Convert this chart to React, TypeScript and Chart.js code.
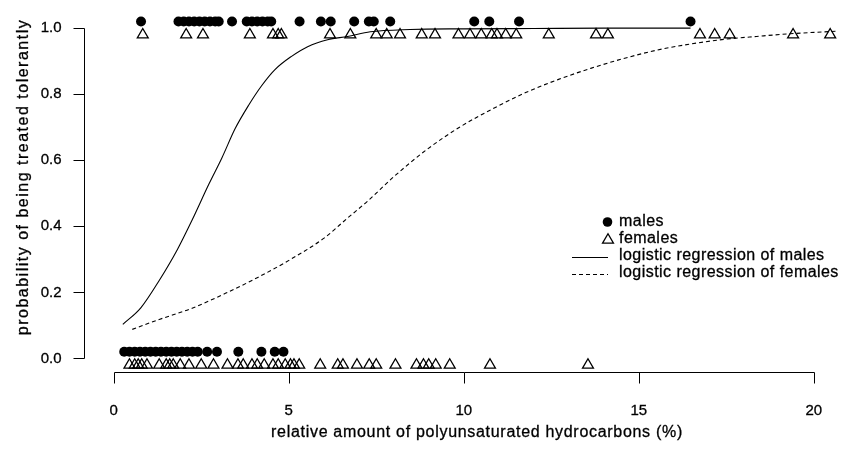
import React, { useEffect, useRef } from 'react';
import { Chart, registerables } from 'chart.js';

Chart.register(...registerables);

// ---- data ----
const maleTopX = [0.78, 1.85, 2.0, 2.15, 2.3, 2.45, 2.6, 2.75, 2.9, 3.0, 3.38, 3.8, 3.95, 4.1, 4.25, 4.4, 4.5, 5.31, 5.92, 6.2, 6.87, 7.29, 7.43, 7.9, 10.3, 10.73, 11.58, 16.48];
const maleBottomX = [0.3, 0.45, 0.6, 0.75, 0.9, 1.05, 1.2, 1.35, 1.5, 1.65, 1.8, 1.95, 2.1, 2.25, 2.4, 2.67, 2.95, 3.56, 4.22, 4.6, 4.85];
const femaleTopX = [0.83, 2.07, 2.55, 3.89, 4.55, 4.7, 4.79, 6.18, 6.76, 7.5, 7.8, 8.18, 8.8, 9.18, 9.85, 10.18, 10.5, 10.8, 10.95, 11.2, 11.5, 12.43, 13.78, 14.12, 16.75, 17.17, 17.6, 19.41, 20.47];
const femaleBottomX = [0.45, 0.6, 0.7, 0.8, 0.95, 1.3, 1.5, 1.6, 1.7, 1.9, 2.15, 2.5, 2.85, 3.25, 3.55, 3.7, 3.95, 4.1, 4.3, 4.55, 4.7, 4.9, 5.05, 5.15, 5.3, 5.9, 6.4, 6.55, 6.95, 7.3, 7.5, 8.05, 8.65, 8.85, 9.0, 9.2, 9.6, 10.75, 13.55];

const maleTopY = 1.02;
const maleBottomY = 0.02;
const femaleTopY = 0.98;
const femaleBottomY = -0.02;

const maleCurveX = [0.26, 0.78, 1.3, 1.82, 2.24, 2.72, 3.09, 3.47, 3.85, 4.22, 4.6, 5.07, 5.54, 6.11, 6.68, 7.33, 8.47, 10.0, 12.0, 14.0, 16.48];
const maleCurveP = [0.103, 0.154, 0.236, 0.33, 0.419, 0.528, 0.607, 0.696, 0.766, 0.825, 0.874, 0.914, 0.944, 0.965, 0.975, 0.989, 0.996, 0.998, 0.999, 1.0, 1.0];

const femaleCurveX = [0.53, 1.3, 2.24, 3.19, 4.13, 5.07, 6.02, 6.68, 7.24, 8.0, 8.94, 9.88, 10.83, 11.77, 12.71, 13.65, 14.6, 15.54, 16.48, 17.43, 18.37, 19.31, 20.7];
const femaleCurveP = [0.088, 0.118, 0.152, 0.197, 0.246, 0.301, 0.365, 0.425, 0.475, 0.55, 0.632, 0.7, 0.756, 0.805, 0.845, 0.879, 0.909, 0.934, 0.952, 0.966, 0.975, 0.983, 0.991];

const xTicks = [0, 5, 10, 15, 20];
const xTickLabels = ['0', '5', '10', '15', '20'];
const yTicks = [0, 0.2, 0.4, 0.6, 0.8, 1.0];
const yTickLabels = ['0.0', '0.2', '0.4', '0.6', '0.8', '1.0'];

const xTitle = 'relative amount of polyunsaturated hydrocarbons (%)';
const yTitle = 'probability of being treated tolerantly';
const legendLabels = ['males', 'females', 'logistic regression of males', 'logistic regression of females'];

const FONT = '"Liberation Sans", Arial, Helvetica, sans-serif';

function heavyText(ctx: CanvasRenderingContext2D, t: string, x: number, y: number) {
  ctx.fillText(t, x, y);
  ctx.strokeText(t, x, y);
}

const rPlotPlugin = {
  id: 'rPlot',
  afterDraw(chart: any) {
    const ctx = chart.ctx as CanvasRenderingContext2D;
    const xs = chart.scales.x;
    const ys = chart.scales.y;
    const area = chart.chartArea;
    ctx.save();
    ctx.strokeStyle = '#000';
    ctx.fillStyle = '#000';
    ctx.lineWidth = 1;

    // x axis (R style: only spans first..last tick)
    const axY = Math.round(area.bottom - 7) + 0.5;
    ctx.beginPath();
    ctx.moveTo(Math.round(xs.getPixelForValue(xTicks[0])) + 0.5, axY);
    ctx.lineTo(Math.round(xs.getPixelForValue(xTicks[xTicks.length - 1])) + 0.5, axY);
    xTicks.forEach((v) => {
      const px = Math.round(xs.getPixelForValue(v)) + 0.5;
      ctx.moveTo(px, axY);
      ctx.lineTo(px, axY + 11);
    });
    ctx.stroke();

    // y axis
    const axX = Math.round(area.left) + 0.5;
    ctx.beginPath();
    ctx.moveTo(axX, Math.round(ys.getPixelForValue(yTicks[0])) + 0.5);
    ctx.lineTo(axX, Math.round(ys.getPixelForValue(yTicks[yTicks.length - 1])) + 0.5);
    yTicks.forEach((v) => {
      const py = Math.round(ys.getPixelForValue(v)) + 0.5;
      ctx.moveTo(axX, py);
      ctx.lineTo(axX - 11, py);
    });
    ctx.stroke();

    // text (slightly emboldened like the R rendering)
    ctx.lineWidth = 0.3;
    ctx.font = `15px ${FONT}`;
    ctx.textAlign = 'center';
    ctx.textBaseline = 'middle';
    xTicks.forEach((v, i) => {
      heavyText(ctx, xTickLabels[i], xs.getPixelForValue(v), axY + 38);
    });
    ctx.textAlign = 'right';
    yTicks.forEach((v, i) => {
      heavyText(ctx, yTickLabels[i], axX - 23, ys.getPixelForValue(v));
    });

    // axis titles
    ctx.textAlign = 'center';
    ctx.font = `16px ${FONT}`;
    (ctx as any).letterSpacing = '0.7px';
    heavyText(ctx, xTitle, 477, 433);
    ctx.save();
    ctx.translate(24, 177);
    ctx.rotate(-Math.PI / 2);
    (ctx as any).letterSpacing = '1.5px';
    heavyText(ctx, yTitle, 0, 0);
    ctx.restore();

    // legend
    (ctx as any).letterSpacing = '0.45px';
    ctx.textAlign = 'left';
    const lx = 619;
    const rows = [221.5, 238.5, 255.5, 272.5];
    legendLabels.forEach((t, i) => heavyText(ctx, t, lx, rows[i]));
    (ctx as any).letterSpacing = '0px';
    // symbols
    ctx.beginPath();
    ctx.arc(607.5, rows[0] + 0.5, 4.8, 0, Math.PI * 2);
    ctx.fill();
    const tr = 6.3;
    const tcx = 608;
    const tcy = rows[1] + 1.5;
    ctx.lineWidth = 1.3;
    ctx.beginPath();
    ctx.moveTo(tcx, tcy - tr);
    ctx.lineTo(tcx + tr * Math.cos(Math.PI / 6), tcy + tr / 2);
    ctx.lineTo(tcx - tr * Math.cos(Math.PI / 6), tcy + tr / 2);
    ctx.closePath();
    ctx.stroke();
    ctx.lineWidth = 1;
    ctx.beginPath();
    ctx.moveTo(572, Math.round(rows[2] + 1.5) + 0.5);
    ctx.lineTo(608, Math.round(rows[2] + 1.5) + 0.5);
    ctx.stroke();
    ctx.setLineDash([4, 3]);
    ctx.beginPath();
    ctx.moveTo(572, Math.round(rows[3] + 1.5) + 0.5);
    ctx.lineTo(608, Math.round(rows[3] + 1.5) + 0.5);
    ctx.stroke();
    ctx.restore();
  },
};

export default function App() {
  const canvasRef = useRef<HTMLCanvasElement | null>(null);

  useEffect(() => {
    if (!canvasRef.current) return;
    const malePts = [
      ...maleTopX.map((x) => ({ x, y: maleTopY })),
      ...maleBottomX.map((x) => ({ x, y: maleBottomY })),
    ];
    const femalePts = [
      ...femaleTopX.map((x) => ({ x, y: femaleTopY })),
      ...femaleBottomX.map((x) => ({ x, y: femaleBottomY })),
    ];
    const chart = new Chart(canvasRef.current, {
      type: 'scatter',
      data: {
        datasets: [
          {
            label: 'males',
            data: malePts,
            pointStyle: 'circle',
            pointRadius: 5,
            pointBackgroundColor: '#000',
            pointBorderWidth: 0,
            borderColor: '#000',
            showLine: false,
          },
          {
            label: 'females',
            data: femalePts,
            pointStyle: 'triangle',
            pointRadius: 6.3,
            pointBackgroundColor: 'rgba(0,0,0,0)',
            pointBorderColor: '#000',
            pointBorderWidth: 1.3,
            showLine: false,
          },
          {
            type: 'line',
            label: 'logistic regression of males',
            data: maleCurveX.map((x, i) => ({ x, y: maleCurveP[i] })),
            borderColor: '#000',
            borderWidth: 1.1,
            pointRadius: 0,
            cubicInterpolationMode: 'monotone',
            fill: false,
          },
          {
            type: 'line',
            label: 'logistic regression of females',
            data: femaleCurveX.map((x, i) => ({ x, y: femaleCurveP[i] })),
            borderColor: '#000',
            borderWidth: 1.1,
            borderDash: [4, 3],
            pointRadius: 0,
            cubicInterpolationMode: 'monotone',
            fill: false,
          },
        ] as any,
      },
      options: {
        animation: false,
        responsive: false,
        devicePixelRatio: 1,
        layout: { padding: { left: 84, right: 0, top: 0, bottom: 88 } },
        plugins: { legend: { display: false }, tooltip: { enabled: false } },
        scales: {
          x: { type: 'linear', min: -0.849, max: 20.962, display: false },
          y: { type: 'linear', min: -0.0623, max: 1.0623, display: false },
        },
      },
      plugins: [rPlotPlugin],
    });
    return () => chart.destroy();
  }, []);

  return (
    <div style={{ position: 'absolute', left: 0, top: 0, width: 855, height: 467, background: '#fff' }}>
      <canvas ref={canvasRef} width={855} height={467} style={{ width: 855, height: 467, display: 'block' }} />
    </div>
  );
}
